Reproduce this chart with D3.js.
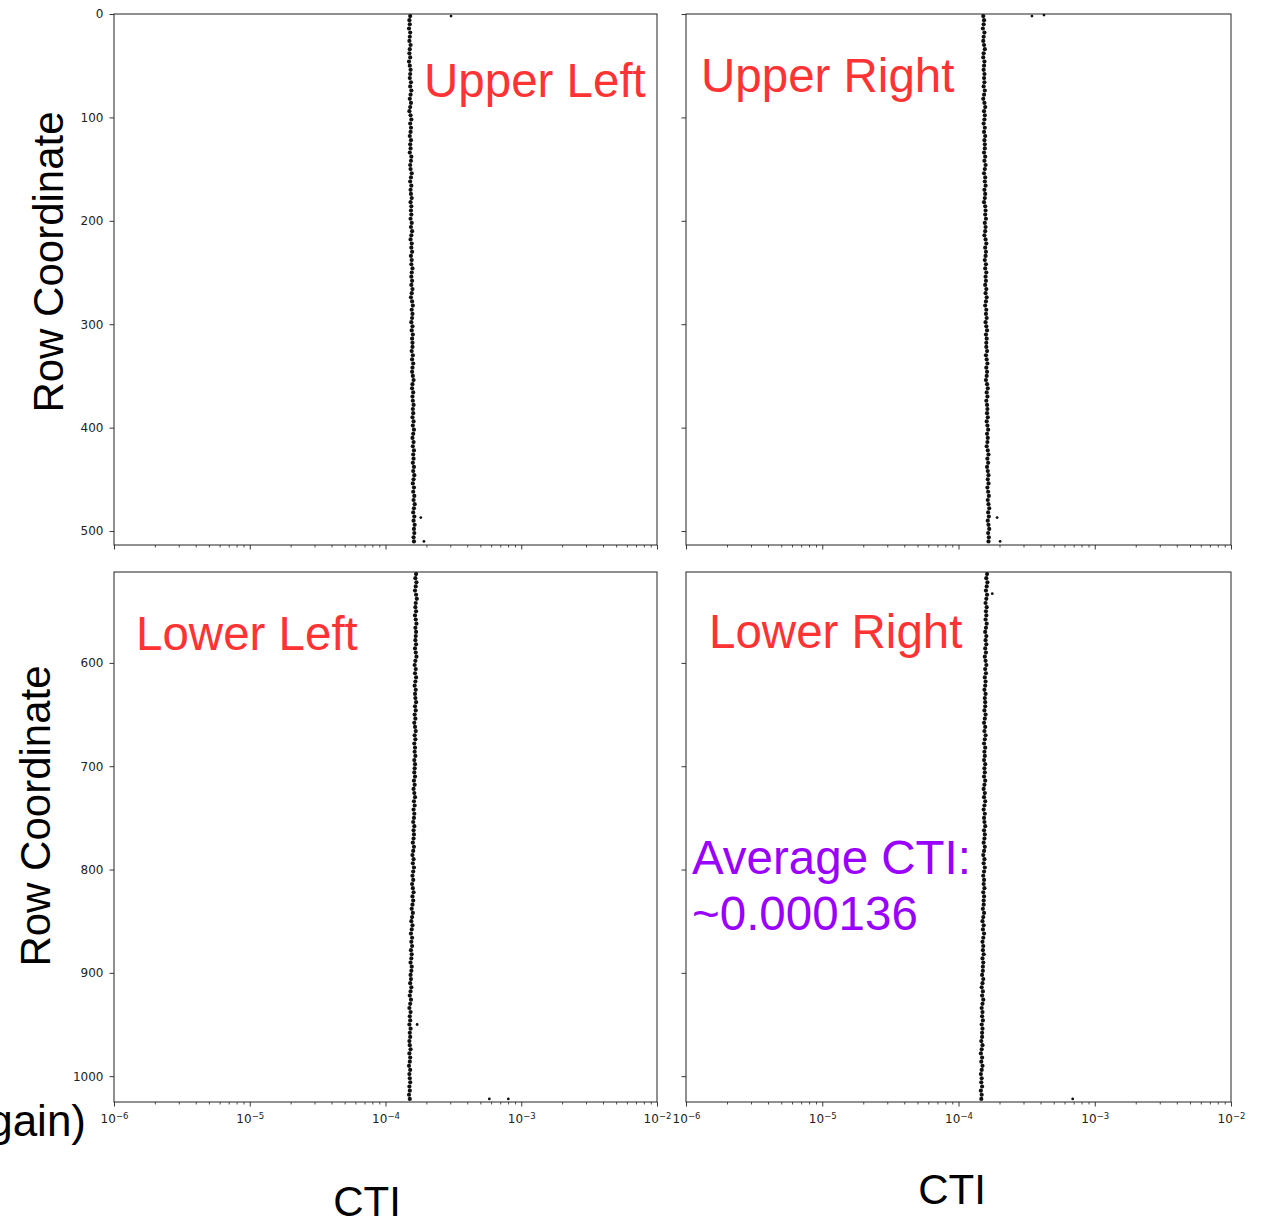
<!DOCTYPE html>
<html>
<head>
<meta charset="utf-8">
<script src="https://cdn.jsdelivr.net/npm/d3@7"></script>
<style>
  body { margin: 0; background: #fff; }
  svg { display: block; }
</style>
</head>
<body>
<svg id="chart" width="1268" height="1221"></svg>
<script>
// CTI per row, in units of 1e-6, sampled every 4 rows.
// Upper quadrants: rows 2, 6, ..., 510. Lower quadrants: rows 514, 518, ..., 1022.
const upperLeftCti = [
  152,150,151,149,152,151,150,153,151,150,152,149,151,153,152,151,
  154,152,155,153,151,154,152,150,153,155,152,154,153,151,154,152,
  153,151,155,154,152,153,156,154,152,155,153,154,156,153,155,154,
  155,153,156,154,157,155,153,156,155,157,154,156,155,158,156,155,
  157,155,158,156,154,157,159,156,158,157,155,158,156,159,157,158,
  158,156,159,157,160,158,157,159,161,158,157,160,158,159,161,159,
  160,158,161,159,162,160,158,161,159,162,160,161,159,162,160,163,
  161,159,162,160,163,161,164,162,160,163,161,164,162,163,161,162
];
const upperRightCti = [
  152,154,153,151,155,153,152,154,156,153,152,155,154,153,155,154,
  155,153,156,154,152,155,157,154,156,155,153,156,154,157,155,156,
  156,154,157,155,158,156,154,157,156,158,155,157,156,154,157,158,
  157,159,156,158,157,155,158,160,157,159,158,156,159,157,160,158,
  159,157,160,158,161,159,157,160,159,161,158,160,162,159,161,160,
  160,162,159,161,163,160,162,161,159,162,164,161,163,160,162,163,
  162,164,161,163,165,162,164,163,161,164,166,163,165,162,164,166,
  164,166,163,165,167,164,166,168,165,167,164,166,168,165,167,166
];
const lowerLeftCti = [
  168,166,169,167,165,168,170,167,166,168,165,167,169,166,168,167,
  166,168,165,167,169,166,164,167,165,168,166,164,167,165,166,168,
  165,167,164,166,163,165,167,164,166,163,165,164,166,163,165,164,
  163,165,162,164,161,163,165,162,164,161,163,162,160,163,161,162,
  161,159,162,160,158,161,159,162,160,158,160,157,159,161,158,160,
  158,156,159,157,155,158,156,154,157,155,157,154,156,155,153,156,
  155,153,154,152,155,153,151,154,152,150,153,151,152,150,153,151,
  152,150,151,153,150,152,151,149,152,150,151,152,150,151,149,151
];
const lowerRightCti = [
  162,160,163,161,159,162,160,158,161,159,160,158,161,159,157,160,
  158,160,157,159,156,158,160,157,159,156,158,157,155,158,156,157,
  157,155,158,156,154,157,155,158,156,154,157,155,156,154,157,155,
  156,154,157,155,153,156,154,157,155,153,156,154,155,157,154,156,
  155,153,156,154,152,155,153,156,154,152,154,153,155,152,154,153,
  153,151,154,152,150,153,151,154,152,150,152,151,153,150,152,151,
  151,149,152,150,148,151,149,152,150,148,150,149,151,148,150,149,
  149,147,150,148,146,149,147,150,148,146,148,147,149,146,148,147
];

// Isolated rows that stand off the main column: [row, CTI ×1e-6]
const upperLeftOutliers  = [[2, 304], [487, 182], [510, 192]];
const upperRightOutliers = [[2, 346], [1, 424], [487, 192], [510, 202]];
const lowerLeftOutliers  = [[950, 171], [1022, 582], [1022, 803]];
const lowerRightOutliers = [[533, 177], [1022, 689]];

const upperRowTicks = [0, 100, 200, 300, 400, 500];
const lowerRowTicks = [600, 700, 800, 900, 1000];
const ctiMajorTicks = [1e-6, 1e-5, 1e-4, 1e-3, 1e-2];
const ctiExponents  = ["\u22126", "\u22125", "\u22124", "\u22123", "\u22122"];

const quadrantLabels = ["Upper Left", "Upper Right", "Lower Left", "Lower Right"];
const averageNote = ["Average CTI:", "~0.000136"];

const svg = d3.select("#chart");
const axisColor = "#222";

const panels = [
  { x0: 114, x1: 657, y0: 14,  y1: 545,  rows: [0, 513.5],  firstRow: 2,   cti: upperLeftCti,  out: upperLeftOutliers,  rowTicks: upperRowTicks, rowLabels: true,  ctiLabels: false },
  { x0: 686, x1: 1231, y0: 14, y1: 545,  rows: [0, 513.5],  firstRow: 2,   cti: upperRightCti, out: upperRightOutliers, rowTicks: upperRowTicks, rowLabels: false, ctiLabels: false },
  { x0: 114, x1: 657, y0: 572, y1: 1102, rows: [512, 1025], firstRow: 514, cti: lowerLeftCti,  out: lowerLeftOutliers,  rowTicks: lowerRowTicks, rowLabels: true,  ctiLabels: true },
  { x0: 686, x1: 1231, y0: 572, y1: 1102, rows: [512, 1025], firstRow: 514, cti: lowerRightCti, out: lowerRightOutliers, rowTicks: lowerRowTicks, rowLabels: false, ctiLabels: true }
];

// minor log ticks 2..9 within each decade
const minorTicks = [];
for (let e = -6; e < -2; e++) for (let k = 2; k <= 9; k++) minorTicks.push(k * Math.pow(10, e));

panels.forEach(p => {
  const x = d3.scaleLog().domain([1e-6, 1e-2]).range([p.x0, p.x1]);
  const y = d3.scaleLinear().domain(p.rows).range([p.y0, p.y1]);
  const g = svg.append("g");

  // minor x ticks
  g.append("g")
    .attr("transform", `translate(0,${p.y1})`)
    .call(d3.axisBottom(x).tickValues(minorTicks).tickSize(2.5).tickFormat(""))
    .call(a => a.select(".domain").remove())
    .call(a => a.selectAll("line").attr("stroke", axisColor).attr("stroke-width", 0.8));

  // major x ticks
  const xa = g.append("g")
    .attr("transform", `translate(0,${p.y1})`)
    .call(d3.axisBottom(x).tickValues(ctiMajorTicks).tickSize(4.5).tickPadding(8)
      .tickFormat(p.ctiLabels ? () => "10" : ""))
    .call(a => a.select(".domain").remove())
    .call(a => a.selectAll("line").attr("stroke", axisColor).attr("stroke-width", 0.9));
  if (p.ctiLabels) {
    xa.selectAll("text")
      .attr("fill", "#222")
      .style("font-family", "DejaVu Sans")
      .style("font-size", "12px")
      .attr("text-anchor", "middle")
      .each(function(d, i) {
        d3.select(this).append("tspan")
          .attr("dy", "-0.45em")
          .style("font-size", "8.5px")
          .text(ctiExponents[i]);
      });
  }

  // y ticks (rows increase downward)
  const ya = g.append("g")
    .attr("transform", `translate(${p.x0},0)`)
    .call(d3.axisLeft(y).tickValues(p.rowTicks).tickSize(4.5).tickPadding(6)
      .tickFormat(p.rowLabels ? d3.format("d") : ""))
    .call(a => a.select(".domain").remove())
    .call(a => a.selectAll("line").attr("stroke", axisColor).attr("stroke-width", 0.9));
  ya.selectAll("text")
    .attr("fill", "#222")
    .style("font-family", "DejaVu Sans")
    .style("font-size", "12px");

  // frame
  g.append("rect")
    .attr("x", p.x0).attr("y", p.y0)
    .attr("width", p.x1 - p.x0).attr("height", p.y1 - p.y0)
    .attr("fill", "none").attr("stroke", axisColor).attr("stroke-width", 1);

  // per-row CTI points
  const pts = p.cti.map((v, i) => ({ row: p.firstRow + i * 4, cti: v * 1e-6 }));
  g.append("g").selectAll("circle").data(pts).join("circle")
    .attr("cx", d => x(d.cti)).attr("cy", d => y(d.row))
    .attr("r", 2.1).attr("fill", "#111");

  g.append("g").selectAll("circle").data(p.out).join("circle")
    .attr("cx", d => x(d[1] * 1e-6)).attr("cy", d => y(d[0]))
    .attr("r", 1.4).attr("fill", "#111");
});

// quadrant names
const red = "#ff3333";
const labelPos = [[424, 97], [701, 92], [136, 650], [709, 648]];
quadrantLabels.forEach((t, i) => {
  svg.append("text")
    .attr("x", labelPos[i][0]).attr("y", labelPos[i][1])
    .attr("fill", red)
    .style("font-family", "Liberation Sans, Arial, sans-serif")
    .style("font-size", "47.5px")
    .text(t);
});

// average note
averageNote.forEach((t, i) => {
  svg.append("text")
    .attr("x", 692).attr("y", 874 + i * 56)
    .attr("fill", "#9900ff")
    .style("font-family", "Liberation Sans, Arial, sans-serif")
    .style("font-size", "47.5px")
    .text(t);
});

// axis titles
const titleFont = "Liberation Sans, Arial, sans-serif";
[[63, 262], [50, 816]].forEach(([bx, cy]) => {
  svg.append("text")
    .attr("transform", `translate(${bx},${cy}) rotate(-90)`)
    .attr("text-anchor", "middle")
    .style("font-family", titleFont)
    .style("font-size", "42px")
    .attr("fill", "#000")
    .text("Row Coordinate");
});
[[367, 1216], [952, 1204]].forEach(([cx, by]) => {
  svg.append("text")
    .attr("x", cx).attr("y", by)
    .attr("text-anchor", "middle")
    .style("font-family", titleFont)
    .style("font-size", "42px")
    .attr("fill", "#000")
    .text("CTI");
});
svg.append("text")
  .attr("x", 86).attr("y", 1136)
  .attr("text-anchor", "end")
  .style("font-family", titleFont)
  .style("font-size", "44px")
  .attr("fill", "#000")
  .text("(high gain)");
</script>
</body>
</html>
